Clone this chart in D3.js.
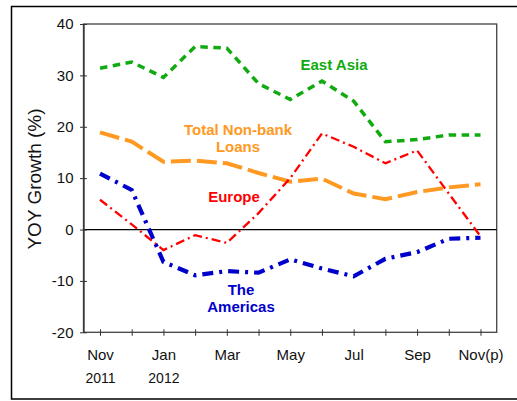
<!DOCTYPE html>
<html>
<head>
<meta charset="utf-8">
<script src="https://cdn.jsdelivr.net/npm/d3@7"></script>
<style>
  body { margin: 0; background: #fff; }
  text { font-family: "Liberation Sans", Arial, sans-serif; }
</style>
</head>
<body>
<div id="chart"></div>
<script>
// monthly data, Nov 2011 .. Nov 2012
var months = ["Nov 2011","Dec 2011","Jan 2012","Feb 2012","Mar 2012","Apr 2012","May 2012",
              "Jun 2012","Jul 2012","Aug 2012","Sep 2012","Oct 2012","Nov 2012"];
var tickLabels = ["Nov","","Jan","","Mar","","May","","Jul","","Sep","","Nov(p)"];
var yearLabels = ["2011","","2012","","","","","","","","","",""];

var eastAsia  = [31.4, 32.6, 29.6, 35.6, 35.3, 28.4, 25.3, 28.9, 25.0, 17.1, 17.5, 18.4, 18.4];
var totalLoans = [18.9, 17.1, 13.2, 13.4, 12.9, 11.0, 9.3, 9.9, 7.0, 5.9, 7.3, 8.2, 8.8];
var europe    = [5.8, 1.0, -4.0, -1.1, -2.6, 3.2, 10.0, 18.7, 16.1, 12.9, 15.4, 7.0, -1.3];
var americas  = [10.9, 7.7, -6.3, -8.9, -8.1, -8.4, -5.8, -7.6, -9.1, -5.7, -4.4, -1.8, -1.6];
var yTicks = [-20, -10, 0, 10, 20, 30, 40];

var W = 517, H = 401;
var margin = {top: 24, right: 20, bottom: 69, left: 83.5},
    width = 496.7 - margin.left,
    height = 332.3 - margin.top;

var svg = d3.select("#chart")
  .append("svg")
    .attr("width", W)
    .attr("height", H);

// outer frame
svg.append("rect")
  .attr("x", 11.5).attr("y", 6.5)
  .attr("width", 520).attr("height", 392.5)
  .attr("fill", "none").attr("stroke", "#000").attr("stroke-width", 1.5);

var g = svg.append("g")
  .attr("transform", "translate(" + margin.left + "," + margin.top + ")");

var x = d3.scalePoint()
  .domain(months)
  .range([16.5, 397]);

var y = d3.scaleLinear()
  .domain([-20, 40])
  .range([height, 0]);

// plot border
g.append("rect")
  .attr("x", 0).attr("y", 0)
  .attr("width", width).attr("height", height)
  .attr("fill", "none").attr("stroke", "#444").attr("stroke-width", 1.3);

// zero line
g.append("line")
  .attr("x1", 0).attr("x2", width)
  .attr("y1", y(0)).attr("y2", y(0))
  .attr("stroke", "#000").attr("stroke-width", 1.2);

// Y axis
var yAxis = g.append("g")
  .call(d3.axisLeft(y).tickValues(yTicks).tickSize(0).tickPadding(10)
    .tickFormat(function(d) { return String(d); }));
yAxis.select(".domain").attr("stroke", "#333").attr("stroke-width", 1.3);
yAxis.selectAll("text").style("font-size", "15px").attr("fill", "#111");
yAxis.selectAll(".tick").append("line")
  .attr("x1", -3.5).attr("x2", 3.5).attr("stroke", "#333").attr("stroke-width", 1);

// X axis
var xAxis = g.append("g")
  .attr("transform", "translate(0," + height + ")")
  .call(d3.axisBottom(x).tickSize(0).tickFormat(""));
xAxis.select(".domain").remove();
xAxis.selectAll(".tick").append("line")
  .attr("y1", -3).attr("y2", 3.5).attr("stroke", "#333").attr("stroke-width", 1);
xAxis.selectAll(".tick").append("text")
  .attr("y", 28).attr("fill", "#111").attr("text-anchor", "middle")
  .style("font-size", "15px")
  .text(function(d, i) { return tickLabels[i]; });
xAxis.selectAll(".tick").append("text")
  .attr("y", 50.5).attr("fill", "#111").attr("text-anchor", "middle")
  .style("font-size", "14px")
  .text(function(d, i) { return yearLabels[i]; });

// Y axis title
svg.append("text")
  .attr("transform", "translate(41,179) rotate(-90)")
  .attr("text-anchor", "middle")
  .style("font-size", "19px")
  .attr("fill", "#111")
  .text("YOY Growth (%)");

var line = d3.line()
  .x(function(d, i) { return x(months[i]); })
  .y(function(d) { return y(d); });

var series = [
  {values: totalLoans, color: "#ff9922", width: 4, dash: "20,6"},
  {values: eastAsia, color: "#11aa11", width: 3.5, dash: "7.5,5.5"},
  {values: europe, color: "#ff0000", width: 2.3, dash: "9,4,2,4"},
  {values: americas, color: "#0000cc", width: 4.2, dash: "11,6,3,6"}
];

g.selectAll(".series")
  .data(series)
  .enter()
  .append("path")
    .attr("class", "series")
    .attr("d", function(d) { return line(d.values); })
    .attr("fill", "none")
    .attr("stroke", function(d) { return d.color; })
    .attr("stroke-width", function(d) { return d.width; })
    .attr("stroke-dasharray", function(d) { return d.dash; });

// series labels
var labels = [
  {lines: ["East Asia"], x: 334, y: 70, color: "#11aa11"},
  {lines: ["Total Non-bank", "Loans"], x: 238, y: 135, color: "#ff9922"},
  {lines: ["Europe"], x: 234, y: 202, color: "#ff0000"},
  {lines: ["The", "Americas"], x: 241, y: 295, color: "#0000cc"}
];

labels.forEach(function(l) {
  var t = svg.append("text")
    .attr("text-anchor", "middle")
    .attr("fill", l.color)
    .style("font-size", "15px")
    .style("font-weight", "bold");
  l.lines.forEach(function(s, i) {
    t.append("tspan").attr("x", l.x).attr("y", l.y + i * 17).text(s);
  });
});
</script>
</body>
</html>
